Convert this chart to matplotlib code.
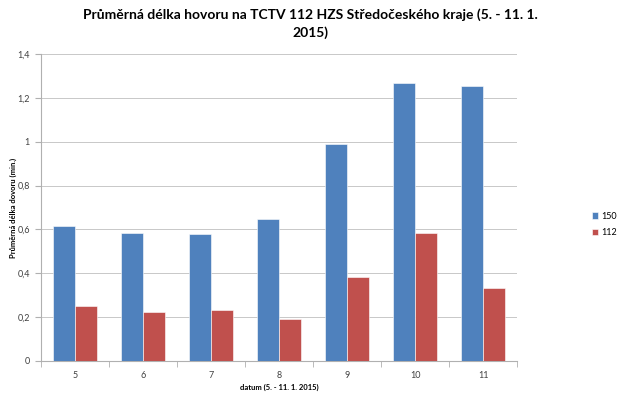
import matplotlib
matplotlib.use("Agg")
from matplotlib import pyplot as plt
import numpy as np

plt.rcParams['font.family'] = ['Lato', 'DejaVu Sans']

# data
days = ['5', '6', '7', '8', '9', '10', '11']
calls_150 = [0.616, 0.584, 0.580, 0.646, 0.990, 1.266, 1.252]
calls_112 = [0.251, 0.224, 0.233, 0.193, 0.383, 0.585, 0.332]
yticks = [0, 0.2, 0.4, 0.6, 0.8, 1.0, 1.2, 1.4]
ylabels = ['0', '0,2', '0,4', '0,6', '0,8', '1', '1,2', '1,4']

blue = '#4f81bd'
red = '#c0504d'

fig = plt.figure(figsize=(6.2, 4), dpi=100)
ax = fig.add_axes([0.066, 0.0975, 0.768, 0.7675])

x = np.arange(len(days))
w = 0.32
ax.bar(x - w / 2, calls_150, w, color=blue, label='150', zorder=3,
       edgecolor='white', linewidth=0.4)
ax.bar(x + w / 2, calls_112, w, color=red, label='112', zorder=3,
       edgecolor='white', linewidth=0.4)

ax.set_xlim(-0.5, len(days) - 0.5)
ax.set_ylim(0, 1.4)
ax.set_yticks(yticks)
ax.set_yticklabels(ylabels)
ax.set_xticks(x)
ax.set_xticklabels(days)
ax.set_xticks(np.arange(-0.5, len(days)), minor=True)
ax.tick_params(axis='x', which='major', length=0, pad=7, labelsize=6.5, colors='#404040')
ax.tick_params(axis='x', which='minor', length=4, color='#b0b0b0')
ax.tick_params(axis='y', length=4, color='#b0b0b0', labelsize=6.5, colors='#404040', pad=4)

ax.grid(axis='y', color='#c8c8c8', linewidth=0.7, zorder=0)
for s in ['top', 'right']:
    ax.spines[s].set_visible(False)
ax.spines['left'].set_color('#b0b0b0')
ax.spines['bottom'].set_color('#b0b0b0')

ax.set_ylabel('Průměrná délka dovoru (min.)', fontsize=5.5, fontweight='bold')
ax.yaxis.set_label_coords(-0.05, 0.5)
ax.set_xlabel('datum (5. - 11. 1. 2015)', fontsize=5.5, fontweight='bold', labelpad=3)
fig.suptitle('Průměrná délka hovoru na TCTV 112 HZS Středočeského kraje (5. - 11. 1.\n2015)',
             fontsize=10, fontweight='bold', y=0.978, linespacing=1.45)

leg = ax.legend(loc='center left', bbox_to_anchor=(1.14, 0.445), frameon=False,
                fontsize=6.5, handlelength=0.7, handleheight=0.7, handletextpad=0.3,
                labelspacing=0.85)

fig.savefig('out.png', dpi=100)
